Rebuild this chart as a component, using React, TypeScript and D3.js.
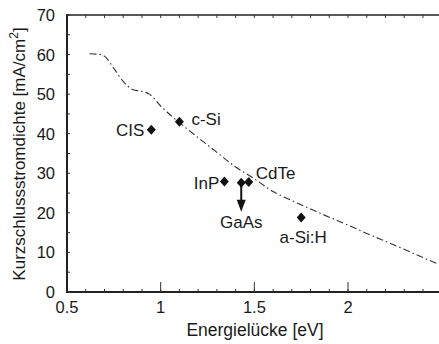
import * as d3 from "d3";

// limit curve (dash-dot): band gap [eV] vs max short-circuit current [mA/cm2]
const curveGap = [0.62, 0.68, 0.7, 0.75, 0.8, 0.85, 0.9, 0.94, 1.0, 1.05, 1.1, 1.2, 1.3, 1.4, 1.5, 1.6, 1.7, 1.8, 1.9, 2.0, 2.1, 2.2, 2.3, 2.4, 2.5];
const curveJsc = [60.2, 60.0, 59.6, 56.5, 53.2, 51.2, 50.7, 50.0, 47.0, 44.8, 42.8, 39.0, 35.3, 31.6, 28.6, 25.4, 23.1, 21.0, 18.9, 16.9, 14.8, 12.8, 10.8, 8.7, 6.7];

// measured cells
const cellNames = ["CIS", "c-Si", "InP", "GaAs", "CdTe", "a-Si:H"];
const cellGap = [0.95, 1.1, 1.34, 1.43, 1.47, 1.75];
const cellJsc = [41, 43, 27.9, 27.6, 27.8, 18.8];

const xTicks = [0.5, 1, 1.5, 2];
const yTicks = [0, 10, 20, 30, 40, 50, 60, 70];

const W = 439;
const H = 344;
const font = "'Liberation Sans', Arial, sans-serif";

export default function App() {
  // scales
  const x = d3.scaleLinear().domain([0.5, 2.5]).range([67, 441.7]);
  const y = d3.scaleLinear().domain([0, 70]).range([292, 15]);

  const line = d3
    .line<number>()
    .x((d, i) => x(curveGap[i]))
    .y((d) => y(d))
    .curve(d3.curveMonotoneX);

  const minorX = d3.range(6, 25).map((d) => d / 10);
  const minorY = d3.range(0, 71, 5);

  // label placement relative to the marker
  const labelPos: Record<string, { dx: number; dy: number; anchor: string }> = {
    CIS: { dx: -7, dy: 6, anchor: "end" },
    "c-Si": { dx: 12, dy: 3, anchor: "start" },
    InP: { dx: -5, dy: 7, anchor: "end" },
    GaAs: { dx: 0, dy: 45, anchor: "middle" },
    CdTe: { dx: 7, dy: -3, anchor: "start" },
    "a-Si:H": { dx: 2, dy: 25, anchor: "middle" },
  };

  const diamond = "M0,-5L4.5,0L0,5L-4.5,0Z";
  const gx = x(cellGap[3]);
  const arrowTop = y(cellJsc[3]);
  const arrowTip = y(20.3);

  return (
    <svg width={W} height={H} style={{ position: "absolute", left: 0, top: 0, background: "#fff" }} fontFamily={font}>
      <rect width={W} height={H} fill="#fff" />

      {/* limit curve */}
      <path d={line(curveJsc) || ""} fill="none" stroke="#333" strokeWidth={1.1} strokeDasharray="7,3,1.5,3" />

      {/* axes frame */}
      <line x1={67} x2={W} y1={15} y2={15} stroke="#222" strokeWidth={1.6} />
      <line x1={67} x2={67} y1={14} y2={293} stroke="#222" strokeWidth={2} />
      <line x1={66} x2={W} y1={292} y2={292} stroke="#222" strokeWidth={2} />

      {/* minor ticks */}
      {minorX.map((d) => (
        <g key={"mx" + d}>
          <line x1={x(d)} x2={x(d)} y1={292} y2={289} stroke="#333" strokeWidth={1} />
          <line x1={x(d)} x2={x(d)} y1={15} y2={18} stroke="#333" strokeWidth={1} />
        </g>
      ))}
      {xTicks.slice(1).map((d) => (
        <line key={"Mx" + d} x1={x(d)} x2={x(d)} y1={292} y2={282} stroke="#333" strokeWidth={1} />
      ))}
      {minorY.map((d) => (
        <line key={"my" + d} x1={67} x2={70} y1={y(d)} y2={y(d)} stroke="#333" strokeWidth={1} />
      ))}

      {/* tick labels */}
      {xTicks.map((d) => (
        <text key={"tx" + d} x={x(d)} y={313} textAnchor="middle" fontSize={16.5} fill="#1a1a1a">
          {d}
        </text>
      ))}
      {yTicks.map((d) => (
        <text key={"ty" + d} x={55} y={y(d) + 6} textAnchor="end" fontSize={16.5} fill="#1a1a1a">
          {d}
        </text>
      ))}

      {/* axis titles */}
      <text x={255} y={336} textAnchor="middle" fontSize={17.5} fill="#1a1a1a">
        Energielücke [eV]
      </text>
      <text transform={`translate(25,154) rotate(-90)`} textAnchor="middle" fontSize={17} fill="#1a1a1a">
        Kurzschlussstromdichte [mA/cm
        <tspan dy={-7} fontSize={12}>2</tspan>
        <tspan dy={7}>]</tspan>
      </text>

      {/* GaAs arrow */}
      <line x1={gx} x2={gx} y1={arrowTop} y2={arrowTip - 10} stroke="#111" strokeWidth={2} />
      <path d={`M${gx - 4.5},${arrowTip - 12} L${gx + 4.5},${arrowTip - 12} L${gx},${arrowTip} Z`} fill="#111" />

      {/* markers and labels */}
      {cellNames.map((n, i) => {
        const px = x(cellGap[i]);
        const py = y(cellJsc[i]);
        const p = labelPos[n];
        return (
          <g key={n}>
            <path d={diamond} transform={`translate(${px},${py})`} fill="#111" />
            <text x={px + p.dx} y={py + p.dy} textAnchor={p.anchor} fontSize={17} fill="#1a1a1a">
              {n}
            </text>
          </g>
        );
      })}
    </svg>
  );
}
